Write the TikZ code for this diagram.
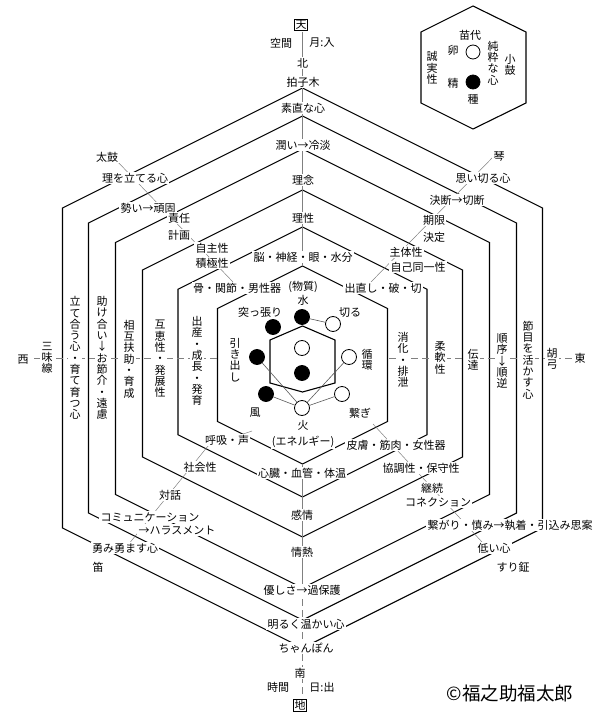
\documentclass[tikz,border=0pt]{standalone}
\usepackage{fontspec}
\setmainfont{Noto Sans CJK JP}
\usetikzlibrary{calc}

\tikzset{
  hexline/.style={line width=1.1pt, line join=miter},
  lbl/.style={fill=white, inner sep=1.2pt, font=\fontsize{11}{11.3}\selectfont},
  tate/.style={lbl, align=center},
  hogaku/.style={draw, line width=0.6pt, fill=white, inner sep=1pt, font=\fontsize{11}{11.3}\selectfont},
  leader/.style={gray, line width=0.5pt},
  axisline/.style={gray, line width=0.6pt},
  dashaxis/.style={gray, line width=0.8pt, dash pattern=on 7pt off 4pt},
  shiro/.style={circle, draw, fill=white, line width=0.8pt, minimum size=15pt, inner sep=0pt},
  kuro/.style={circle, draw, fill=black, line width=0.8pt, minimum size=15pt, inner sep=0pt},
  link/.style={gray!70!black, line width=0.6pt}
}

\begin{document}
\begin{tikzpicture}[x=1pt,y=-1pt]
\useasboundingbox (0,0) rectangle (605,727);

% nested hexagons
\foreach \w/\t/\b in {240/88/648,214/116/620,187/149/588,160/190/537,124.5/227/497,85/266/464}
  \draw[hexline] (302.5,\t) -- ++(\w,\w/2) -- ({302.5+\w},{\b-\w/2}) -- (302.5,\b)
    -- ({302.5-\w},{\b-\w/2}) -- ({302.5-\w},{\t+\w/2}) -- cycle;
\draw[hexline] (302.5,326) -- (335,340) -- (335,383) -- (302.5,392) -- (270,383) -- (270,340) -- cycle;

% legend hexagon
\draw[hexline] (473,6) -- (526,32) -- (526,103) -- (473,129) -- (421,103) -- (421,32) -- cycle;

% axes
\coordinate (kita) at (302.5,32);
\coordinate (kitaEnd) at (302.5,266);
\coordinate (minamiTop) at (302.5,464);
\coordinate (minamiMid) at (302.5,588);
\coordinate (minami) at (302.5,697);
\coordinate (nishi) at (34,358);
\coordinate (nishiEnd) at (219,358);
\coordinate (higashiEnd) at (389,358);
\coordinate (higashi) at (572,358);
\draw[axisline] (kita) -- (kitaEnd);
\draw[axisline] (minamiTop) -- (minamiMid);
\draw[dashaxis] (minamiMid) -- (minami);
\draw[dashaxis] (nishi) -- (nishiEnd);
\draw[dashaxis] (higashiEnd) -- (higashi);

% leaders
\coordinate (ulA) at (115,159);
\coordinate (ulB) at (233,282);
\coordinate (urA) at (494,156);
\coordinate (urB) at (371,282);
\coordinate (llA) at (252,431);
\coordinate (llM) at (208,446);
\coordinate (llB) at (128,545);
\coordinate (lrA) at (373,424);
\coordinate (lrB) at (482,542);
\draw[leader] (ulA) -- (ulB);
\draw[leader] (urA) -- (urB);
\draw[leader] (llA) -- (llM) -- (llB);
\draw[leader] (lrA) -- (lrB);

% north / south
\node[hogaku] (ten) at (301,25) {天};
\node[lbl] (kukan) at (281,43) {空間};
\node[lbl] (tsuki) at (322,43) {月:入};
\node[lbl] (kitaL) at (302.5,63) {北};
\node[hogaku] (chi) at (300,705) {地};
\node[lbl] (minamiL) at (300,673) {南};
\node[lbl] (jikan) at (278,687) {時間};
\node[lbl] (hi2) at (322,687) {日:出};

% top axis labels
\node[lbl] (hyoshigi) at (303,82) {拍子木};
\node[lbl] (sunao) at (303,108) {素直な心};
\node[lbl] (uruoi) at (303,145) {潤い→冷淡};
\node[lbl] (rinen) at (303,180) {理念};
\node[lbl] (risei) at (303,218) {理性};
\node[lbl] (nou) at (303,257) {脳・神経・眼・水分};
\node[lbl] (busshitsu) at (303,287) {(物質)};
\node[lbl] (mizu) at (303,300) {水};

% bottom axis labels
\node[lbl] (hiL) at (303,425) {火};
\node[lbl] (energy) at (303,442) {(エネルギー)};
\node[lbl] (shinzou) at (302,473) {心臓・血管・体温};
\node[lbl] (kanjou) at (302,515) {感情};
\node[lbl] (jounetsu) at (302,552) {情熱};
\node[lbl] (yasashisa) at (302,590) {優しさ→過保護};
\node[lbl] (akaruku) at (306,624) {明るく温かい心};
\node[lbl] (chanpon) at (306,648) {ちゃんぽん};

% upper left
\node[lbl] (taiko) at (107,157) {太鼓};
\node[lbl] (ri) at (135,178) {理を立てる心};
\node[lbl] (ikioi) at (148,208) {勢い→頑固};
\node[lbl] (sekinin) at (179,218) {責任};
\node[lbl] (keikaku) at (179,235) {計画};
\node[lbl] (jishu) at (212,248) {自主性};
\node[lbl] (sekkyoku) at (212,263) {積極性};
\node[lbl] (hone) at (237,288) {骨・関節・男性器};

% upper right
\node[lbl] (koto) at (499,157) {琴};
\node[lbl] (omoikiru) at (483,178) {思い切る心};
\node[lbl] (ketsudan) at (457,200) {決断→切断};
\node[lbl] (kigen) at (434,220) {期限};
\node[lbl] (kettei) at (434,237) {決定};
\node[lbl] (shutai) at (406,252) {主体性};
\node[lbl] (jiko) at (418,267) {自己同一性};
\node[lbl] (denaoshi) at (383,288) {出直し・破・切};

% lower left
\node[lbl] (kokyu) at (227,440) {呼吸・声};
\node[lbl] (shakai) at (200,467) {社会性};
\node[lbl] (taiwa) at (170,495) {対話};
\node[lbl] (komyu) at (150,517) {コミュニケーション};
\node[lbl] (harasu) at (177,530) {→ハラスメント};
\node[lbl] (isami) at (125,548) {勇み勇ます心};
\node[lbl] (fue) at (98,567) {笛};

% lower right
\node[lbl] (hifu) at (396,445) {皮膚・筋肉・女性器};
\node[lbl] (kyouchou) at (421,468) {協調性・保守性};
\node[lbl] (keizoku) at (432,488) {継続};
\node[lbl] (konekushon) at (438,502) {コネクション};
\node[lbl] (tsunagari) at (510,525) {繋がり・慎み→執着・引込み思案};
\node[lbl] (hikui) at (494,548) {低い心};
\node[lbl] (surigane) at (513,567) {すり鉦};

% west / east
\node[lbl] (nishiL) at (23,360) {西};
\node[tate] (shamisen) at (47,358) {三\\味\\線};
\node[tate] (tateau) at (75,358) {立\\て\\合\\う\\心\\・\\育\\て\\育\\つ\\心};
\node[tate] (tasukeai) at (102,358) {助\\け\\合\\い\\↓\\お\\節\\介\\・\\遠\\慮};
\node[tate] (sougo) at (129,359) {相\\互\\扶\\助\\・\\育\\成};
\node[tate] (gokei) at (160,359) {互\\恵\\性\\・\\発\\展\\性};
\node[tate] (shussan) at (197,361) {出\\産\\・\\成\\長\\・\\発\\育};
\node[tate] (hikidashi) at (235,360) {引\\き\\出\\し};
\node[tate] (junkan) at (367,360) {循\\環};
\node[tate] (shouka) at (403,360) {消\\化\\・\\排\\泄};
\node[tate] (juunan) at (440,358) {柔\\軟\\性};
\node[tate] (dentatsu) at (473,360) {伝\\達};
\node[tate] (junjo) at (502,361) {順\\序\\↓\\順\\逆};
\node[tate] (fushime) at (528,360) {節\\目\\を\\活\\か\\す\\心};
\node[tate] (kokyuu) at (552,359) {胡\\弓};
\node[lbl] (higashiL) at (580,358) {東};

% inner circle labels
\node[lbl] (tsuppari) at (260,312) {突っ張り};
\node[lbl] (kiru) at (350,312) {切る};
\node[lbl] (kaze) at (255,413) {風};
\node[lbl] (tsunagi) at (360,413) {繋ぎ};

% inner circles
\node[kuro] (kMizu) at (302,317) {};
\node[shiro] (kKiru) at (333,324) {};
\node[kuro] (kTsuppari) at (273,327) {};
\node[kuro] (kHiki) at (257,357) {};
\node[shiro] (kJun) at (349,357) {};
\node[kuro] (kKaze) at (266,394) {};
\node[shiro] (kTsuna) at (342,394) {};
\node[shiro] (kHi) at (302,408) {};
\node[shiro] (kUe) at (302,348) {};
\node[kuro] (kShita) at (302,373) {};
\draw[link] (kMizu) -- (kKiru);
\draw[link] (kHi) -- (kHiki);
\draw[link] (kHi) -- (kKaze);
\draw[link] (kHi) -- (kJun);
\draw[link] (kHi) -- (kTsuna);

% legend
\node[lbl] (nawashiro) at (470,35) {苗代};
\node[lbl] (tamago) at (453,50) {卵};
\node[lbl] (sei) at (453,83) {精};
\node[lbl] (tane) at (473,99) {種};
\node[tate] (seijitsu) at (432,68) {誠\\実\\性};
\node[tate] (junsui) at (493,63) {純\\粋\\な\\心};
\node[tate] (kotsuzumi) at (510,65) {小\\鼓};
\node[shiro, minimum size=14pt] (lShiro) at (473,52) {};
\node[kuro, minimum size=14pt] (lKuro) at (473,82) {};

\node[font=\fontsize{18.5}{19}\selectfont, inner sep=0pt] (copy) at (510,693) {©福之助福太郎};
\end{tikzpicture}
\end{document}
